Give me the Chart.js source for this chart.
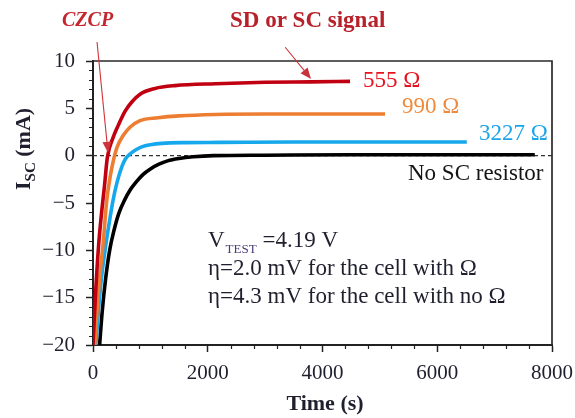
<!DOCTYPE html>
<html>
<head>
<meta charset="utf-8">
<title>Short-circuit current vs time</title>
<script src="https://cdn.jsdelivr.net/npm/chart.js@4.4.1/dist/chart.umd.min.js"></script>
<style>
  html, body { margin: 0; padding: 0; background: #fff; }
  canvas { display: block; }
</style>
</head>
<body>
<canvas id="iscChart" width="575" height="418" style="width:575px;height:418px"></canvas>
<script>
// Isc traces (mA) vs time (s), one pair of arrays per cell
const time555 = [0, 50, 100, 150, 200, 250, 350, 440, 560, 680, 820, 1080, 1430, 2130, 3000, 3800, 4480];
const isc555  = [-20, -14, -9.3, -6, -3.2, -0.2, 1.9, 3.2, 4.7, 5.7, 6.5, 7.1, 7.4, 7.6, 7.75, 7.8, 7.85];

const time990 = [30, 80, 130, 175, 240, 300, 360, 420, 523, 645, 820, 1134, 1500, 2130, 3000, 4000, 5090];
const isc990  = [-20, -15.5, -12, -9.4, -4.7, -2.2, -0.4, 0.9, 2.1, 3.0, 3.7, 4.0, 4.2, 4.35, 4.4, 4.4, 4.4];

const time3227 = [50, 100, 150, 210, 280, 350, 420, 500, 570, 650, 740, 850, 1000, 1200, 1600, 2200, 3500, 5000, 6515];
const isc3227  = [-20, -16, -12.8, -10, -7.2, -4.7, -2.8, -1.2, -0.3, 0.2, 0.6, 0.93, 1.15, 1.3, 1.38, 1.4, 1.45, 1.45, 1.45];

const timeNoR = [115, 160, 220, 290, 370, 450, 550, 650, 750, 870, 1000, 1150, 1300, 1500, 1750, 2100, 3000, 4500, 6000, 7700];
const iscNoR  = [-20, -16.5, -13, -10, -7.8, -6.1, -4.7, -3.6, -2.8, -2.0, -1.4, -0.9, -0.55, -0.3, -0.12, 0, 0.05, 0.1, 0.1, 0.1];

const zeroTime = [0, 8000];
const zeroIsc  = [0, 0];

const xTicks = [0, 2000, 4000, 6000, 8000];
const yTicks = [-20, -15, -10, -5, 0, 5, 10];

const SERIF = "'Liberation Serif', 'Times New Roman', serif";
const INK = '#1f1f2e';

function toPoints(times, values) {
  return times.map((t, i) => ({ x: t, y: values[i] }));
}

function trace(label, times, values, color) {
  return {
    label,
    data: toPoints(times, values),
    borderColor: color,
    borderWidth: 3.6,
    pointRadius: 0,
    cubicInterpolationMode: 'monotone',
    fill: false
  };
}

// small ticks between the labelled ones, plus the top/right frame
const minorTicks = {
  id: 'minorTicks',
  afterDraw(chart) {
    const { ctx, chartArea: a, scales: { x, y } } = chart;
    ctx.save();
    ctx.strokeStyle = '#222';
    ctx.lineWidth = 1.2;
    ctx.beginPath();
    for (let v = -20; v <= 10; v += 1) {
      if (v % 5 === 0) continue;
      const py = Math.round(y.getPixelForValue(v)) + 0.5;
      ctx.moveTo(a.left - 4, py);
      ctx.lineTo(a.left, py);
    }
    for (let t = 0; t <= 8000; t += 400) {
      if (t % 2000 === 0) continue;
      const px = Math.round(x.getPixelForValue(t)) + 0.5;
      ctx.moveTo(px, a.bottom);
      ctx.lineTo(px, a.bottom + 4);
    }
    ctx.stroke();
    ctx.strokeStyle = '#2a2a2a';
    ctx.lineWidth = 1.7;
    ctx.beginPath();
    ctx.moveTo(a.left, a.top);
    ctx.lineTo(a.right, a.top);
    ctx.lineTo(a.right, a.bottom);
    ctx.stroke();
    ctx.restore();
  }
};

function arrow(ctx, x0, y0, x1, y1, color) {
  const ang = Math.atan2(y1 - y0, x1 - x0);
  const len = 11, half = 4.5;
  const bx = x1 - len * Math.cos(ang), by = y1 - len * Math.sin(ang);
  ctx.strokeStyle = color;
  ctx.fillStyle = color;
  ctx.lineWidth = 1.1;
  ctx.beginPath();
  ctx.moveTo(x0, y0);
  ctx.lineTo(bx, by);
  ctx.stroke();
  ctx.beginPath();
  ctx.moveTo(x1, y1);
  ctx.lineTo(bx + half * Math.sin(ang), by - half * Math.cos(ang));
  ctx.lineTo(bx - half * Math.sin(ang), by + half * Math.cos(ang));
  ctx.closePath();
  ctx.fill();
}

function text(ctx, str, x, y, font, color) {
  ctx.font = font;
  ctx.fillStyle = color;
  ctx.fillText(str, x, y);
  return x + ctx.measureText(str).width;
}

// axis titles, curve labels, arrows and the test conditions
const annotations = {
  id: 'annotations',
  afterDraw(chart) {
    const { ctx, scales: { x, y } } = chart;
    ctx.save();
    ctx.textBaseline = 'alphabetic';
    ctx.textAlign = 'left';

    // y title, rotated, with subscript
    ctx.save();
    ctx.translate(30, 190);
    ctx.rotate(-Math.PI / 2);
    let cx = text(ctx, 'I', 0, 0, `bold 22px ${SERIF}`, INK);
    cx = text(ctx, 'SC', cx, 5, `bold 15px ${SERIF}`, INK);
    text(ctx, ' (mA)', cx, 0, `bold 22px ${SERIF}`, INK);
    ctx.restore();

    // x title
    ctx.textAlign = 'center';
    text(ctx, 'Time (s)', 325, 410, `bold 22px ${SERIF}`, INK);
    ctx.textAlign = 'left';

    // callouts
    text(ctx, 'CZCP', 62, 26, `italic bold 20px ${SERIF}`, '#c4262e');
    text(ctx, 'SD or SC signal', 230, 27, `bold 23px ${SERIF}`, '#b8202a');
    arrow(ctx, x.getPixelForValue(70), y.getPixelForValue(12.0),
               x.getPixelForValue(262), y.getPixelForValue(0.3), '#d0343a');
    arrow(ctx, x.getPixelForValue(3350), y.getPixelForValue(11.45),
               x.getPixelForValue(3800), y.getPixelForValue(8.1), '#c8323a');

    // curve labels
    text(ctx, '555 \u03A9', 363, 87, `23px ${SERIF}`, '#e8121f');
    text(ctx, '990 \u03A9', 402, 113, `23px ${SERIF}`, '#f08a3c');
    text(ctx, '3227 \u03A9', 479, 140, `23px ${SERIF}`, '#1ea5e8');
    text(ctx, 'No SC resistor', 408, 180, `23px ${SERIF}`, '#141414');

    // test conditions
    cx = text(ctx, 'V', 208, 247, `23px ${SERIF}`, INK);
    cx = text(ctx, 'TEST', cx + 1, 253, `13px ${SERIF}`, '#4b3b7a');
    text(ctx, ' =4.19 V', cx, 247, `23px ${SERIF}`, INK);
    text(ctx, '\u03B7=2.0 mV for the cell with \u03A9', 208, 275, `23px ${SERIF}`, INK);
    text(ctx, '\u03B7=4.3 mV for the cell with no \u03A9', 208, 303, `23px ${SERIF}`, INK);
    ctx.restore();
  }
};

Chart.defaults.font.family = SERIF;
Chart.defaults.color = INK;

new Chart(document.getElementById('iscChart'), {
  type: 'line',
  data: {
    datasets: [
      trace('555 \u03A9', time555, isc555, '#c00010'),
      trace('990 \u03A9', time990, isc990, '#ed7d31'),
      trace('3227 \u03A9', time3227, isc3227, '#16a8ec'),
      trace('No SC resistor', timeNoR, iscNoR, '#000000'),
      {
        label: 'zero',
        data: toPoints(zeroTime, zeroIsc),
        borderColor: '#333',
        borderWidth: 1.4,
        borderDash: [4, 3],
        pointRadius: 0
      }
    ]
  },
  options: {
    responsive: false,
    animation: false,
    devicePixelRatio: 1,
    layout: { padding: { top: 61, right: 23, left: 0, bottom: 0 } },
    plugins: {
      legend: { display: false },
      tooltip: { enabled: false }
    },
    scales: {
      x: {
        type: 'linear',
        min: 0,
        max: 8000,
        afterBuildTicks: (s) => { s.ticks = xTicks.map(v => ({ value: v })); },
        afterFit: (s) => { s.height = 73; s.paddingLeft = 0; s.paddingRight = 0; },
        ticks: { font: { size: 21 }, color: INK, padding: 9, maxRotation: 0, callback: (v) => String(v) },
        grid: { drawOnChartArea: false, drawTicks: true, tickLength: 7, tickColor: '#222', tickWidth: 1.5 },
        border: { color: '#222', width: 2 }
      },
      y: {
        min: -20,
        max: 10,
        afterBuildTicks: (s) => { s.ticks = yTicks.map(v => ({ value: v })); },
        afterFit: (s) => { s.width = 93; s.paddingTop = 0; s.paddingBottom = 0; },
        ticks: {
          font: { size: 21 },
          color: INK,
          padding: 11,
          callback: (v) => (v < 0 ? '\u2212' + Math.abs(v) : String(v))
        },
        grid: { drawOnChartArea: false, drawTicks: true, tickLength: 7, tickColor: '#222', tickWidth: 1.5 },
        border: { color: '#222', width: 2 }
      }
    }
  },
  plugins: [minorTicks, annotations]
});
</script>
</body>
</html>
